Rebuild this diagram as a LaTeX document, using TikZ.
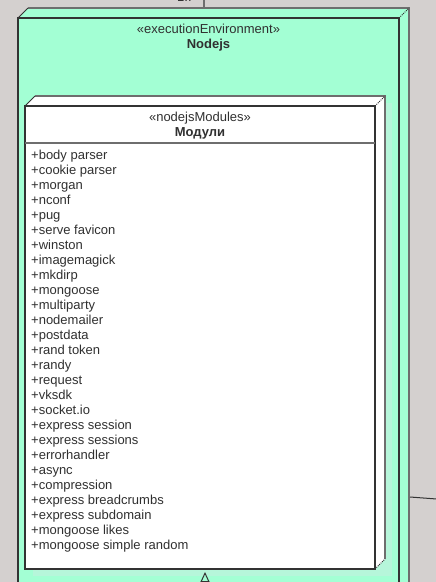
\documentclass[tikz,border=0pt]{standalone}
\usepackage{fontspec}
\setmainfont{Liberation Sans}
\usetikzlibrary{arrows.meta}
\definecolor{canvas}{HTML}{D4D0CF}
\definecolor{envgreen}{HTML}{A3FFD4}
\definecolor{envshade}{HTML}{B6F6DA}
\definecolor{edgedark}{HTML}{333333}
\definecolor{edgegray}{HTML}{6E6E6E}
\definecolor{txt}{HTML}{303030}
\tikzset{
  umltext/.style={text=txt,inner sep=0pt,font=\fontsize{13}{15}\selectfont},
  umlbold/.style={text=txt,inner sep=0pt,font=\fontsize{13}{15}\selectfont\bfseries},
  front/.style={draw=edgedark,line width=2pt},
  back/.style={draw=edgegray,line width=1.5pt},
  link/.style={draw=edgedark,line width=1pt}
}
\begin{document}
\begin{tikzpicture}[x=1pt,y=-1pt]
 \useasboundingbox (0,0) rectangle (436,582);
 \clip (0,0) rectangle (436,582);
 \fill[canvas](0,0) rectangle (436,582);
 \fill[envgreen](18,18)--(28,8)--(409,8)--(409,600)--(18,600)--cycle;
 \draw[back](28,8)--(409,8)--(409,600);
 \draw[edgedark,line width=1pt](18,18)--(28,8);
 \draw[edgedark,line width=1pt,densely dotted](399,18)--(409,8);
 \draw[front](18,600)--(18,18)--(399,18)--(399,600);
 \node[umltext,anchor=base] (envstereo) at (208.5,33) {«executionEnvironment»};
 \node[umlbold,anchor=base] (envname) at (208.5,48) {Nodejs};
 \fill[envshade](33,103) rectangle (392,576);
 \fill[white](25,106)--(35,96)--(385,96)--(385,559)--(375,569)--(25,569)--cycle;
 \draw[back](35,96)--(385,96)--(385,559);
 \draw[edgedark,line width=1pt](25,106)--(35,96);
 \draw[edgedark,line width=1pt,densely dotted](375,106)--(385,96);
 \draw[edgedark,line width=1pt,densely dotted](375,569)--(385,559);
 \draw[front](25,106) rectangle (375,569);
 \draw[edgegray,line width=2pt](25,143)--(375,143);
 \node[umltext,anchor=base] (modstereo) at (200,121) {«nodejsModules»};
 \node[umlbold,anchor=base] (modname) at (200,136) {Модули};
 \foreach \pkg [count=\i from 0] in {body parser,cookie parser,morgan,nconf,pug,serve favicon,winston,imagemagick,mkdirp,mongoose,multiparty,nodemailer,postdata,rand token,randy,request,vksdk,socket.io,express session,express sessions,errorhandler,async,compression,express breadcrumbs,express subdomain,mongoose likes,mongoose simple random}
   \node[umltext,anchor=base west] (item\i) at (31,159+15*\i) {+\pkg};
 \node[umltext,anchor=base west] (mult) at (177,1.5) {1..*};
 \coordinate (envtop) at (204,8);
 \coordinate (upper) at (204,-20);
 \draw[link,line width=1.5pt,edgegray](upper)--(envtop);
 \coordinate (envside) at (410,497);
 \coordinate (outer) at (450,500);
 \draw[link](outer)--(envside);
 \coordinate (modfoot) at (205,572);
 \coordinate (lower) at (205,620);
 \draw[link,-{Triangle[open,width=9pt,length=10pt]}](lower)--(modfoot);
\end{tikzpicture}
\end{document}
